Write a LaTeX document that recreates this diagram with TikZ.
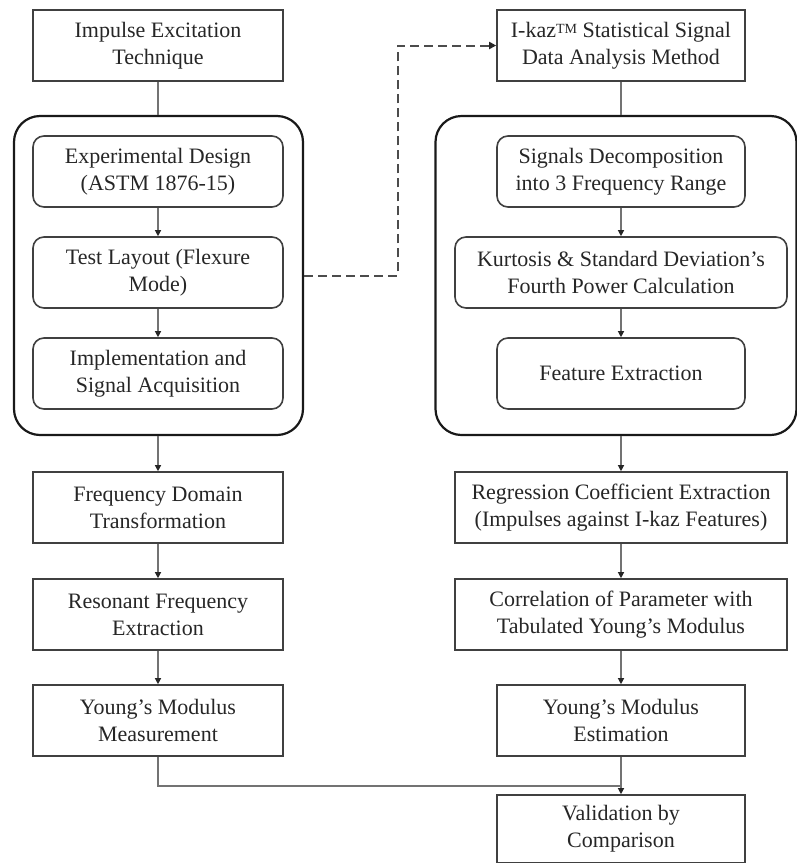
\documentclass[tikz,border=0pt]{standalone}
\usepackage{fontspec}
\setmainfont{Liberation Serif}
\usetikzlibrary{arrows.meta}
\begin{document}
\begin{tikzpicture}[x=1pt,y=-1pt,
  every node/.style={font=\fontsize{22}{27}\selectfont, text=black!85, align=center, inner sep=0pt},
  sqbox/.style={draw=black!75, line width=1.6pt, minimum width=250pt, minimum height=71pt},
  rdbox/.style={sqbox, rounded corners=11pt},
  cont/.style={draw=black!90, line width=2.2pt, rounded corners=26pt},
  conn/.style={draw=black!55, line width=1.2pt},
  arr/.style={conn, -{Triangle[width=6pt,length=6pt,fill=black!85,color=black!85]}},
  dsh/.style={draw=black!70, line width=2pt, dash pattern=on 9pt off 5pt, -{Triangle[width=7pt,length=7pt,fill=black!85,color=black!85]}}
]
\useasboundingbox (0,0) rectangle (797,863);
% containers
\node[cont, minimum width=289pt, minimum height=319pt] (LC) at (158.5,275.5) {};
\node[cont, minimum width=361pt, minimum height=319pt] (RC) at (616,275.5) {};
% left column
\node[sqbox] (B1) at (158,45.5) {Impulse Excitation\\Technique};
\node[rdbox] (ED) at (158,171.5) {Experimental Design\\(ASTM 1876-15)};
\node[rdbox] (TL) at (158,272.5) {Test Layout (Flexure\\Mode)};
\node[rdbox] (IM) at (158,373.5) {Implementation and\\Signal Acquisition};
\node[sqbox] (FD) at (158,507.5) {Frequency Domain\\Transformation};
\node[sqbox] (RF) at (158,614.5) {Resonant Frequency\\Extraction};
\node[sqbox] (YM) at (158,720.5) {Young's Modulus\\Measurement};
% right column
\node[sqbox, minimum width=248pt] (IK) at (621,45.5) {I-kaz{\fontsize{14}{14}\selectfont\raisebox{0.55ex}{TM}} Statistical Signal\\Data Analysis Method};
\node[rdbox, minimum width=248pt] (SD) at (621,171.5) {Signals Decomposition\\into 3 Frequency Range};
\node[rdbox, minimum width=332pt] (KU) at (621,272.5) {Kurtosis \& Standard Deviation's\\Fourth Power Calculation};
\node[rdbox, minimum width=248pt] (FE) at (621,373.5) {Feature Extraction};
\node[sqbox, minimum width=332pt] (RE) at (621,507.5) {Regression Coefficient Extraction\\(Impulses against I-kaz Features)};
\node[sqbox, minimum width=332pt] (CO) at (621,614.5) {Correlation of Parameter with\\Tabulated Young's Modulus};
\node[sqbox, minimum width=248pt] (YE) at (621,720.5) {Young's Modulus\\Estimation};
\node[sqbox, minimum width=248pt, minimum height=68pt] (VA) at (621,829) {Validation by\\Comparison};
% connectors left
\draw[conn] (B1.south) -- (B1.south |- LC.north);
\draw[arr] (ED) -- (TL);
\draw[arr] (TL) -- (IM);
\draw[arr] (LC.south -| FD.north) -- (FD);
\draw[arr] (FD) -- (RF);
\draw[arr] (RF) -- (YM);
% connectors right
\draw[conn] (IK.south) -- (IK.south |- RC.north);
\draw[arr] (SD) -- (KU);
\draw[arr] (KU) -- (FE);
\draw[arr] (RC.south -| RE.north) -- (RE);
\draw[arr] (RE) -- (CO);
\draw[arr] (CO) -- (YE);
\draw[arr] (YE) -- (VA);
% merge
\coordinate (J) at (621,786);
\draw[conn] (YM.south) |- (J);
% dashed
\coordinate (D1) at (398,275.5);
\coordinate (D2) at (398,45.5);
\draw[dsh] (LC.east) -- (D1) -- (D2) -- (IK.west);
\end{tikzpicture}
\end{document}
